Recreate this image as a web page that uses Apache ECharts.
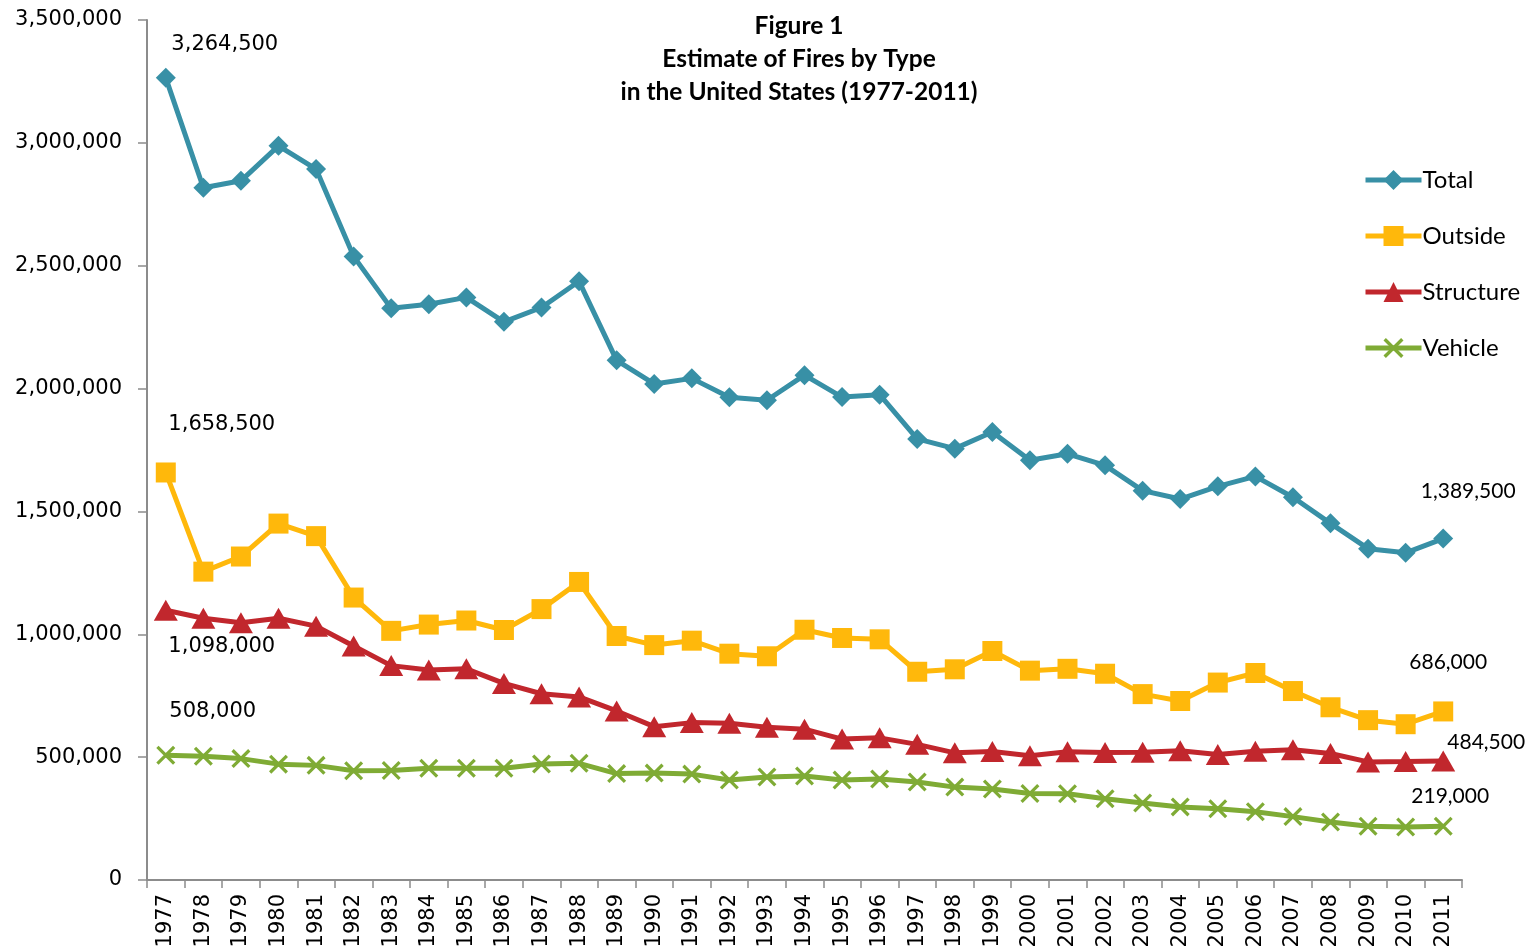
<!DOCTYPE html>
<html>
<head>
<meta charset="utf-8">
<title>Estimate of Fires by Type</title>
<script src="https://cdn.jsdelivr.net/npm/echarts@6/dist/echarts.min.js"></script>
<style>
  html, body { margin: 0; padding: 0; background: #fff; }
  #chart { width: 1528px; height: 952px; }
</style>
</head>
<body>
<div id="chart"></div>
<script>
// years on the x axis
var years = [
  "1977", "1978", "1979", "1980", "1981", "1982", "1983", "1984", "1985", "1986",
  "1987", "1988", "1989", "1990", "1991", "1992", "1993", "1994", "1995", "1996",
  "1997", "1998", "1999", "2000", "2001", "2002", "2003", "2004", "2005", "2006",
  "2007", "2008", "2009", "2010", "2011"
];
var total = [
  3264500, 2817500, 2845500, 2988000, 2893500, 2538000, 2326500, 2343000, 2371000, 2271500,
  2330000, 2436500, 2115000, 2019000, 2041500, 1964500, 1952500, 2054500, 1965500, 1975000,
  1795000, 1755500, 1823000, 1708000, 1734500, 1687500, 1584500, 1550500, 1602000, 1642500,
  1557500, 1451500, 1348500, 1331500, 1389500
];
var outside = [
  1658500, 1255000, 1316500, 1450500, 1399500, 1149500, 1014000, 1039500, 1056000, 1017500,
  1102500, 1213000, 993000, 956000, 974000, 921000, 910500, 1018500, 985000, 979500,
  847500, 857500, 932000, 852000, 859500, 839500, 756500, 728500, 803500, 842500,
  769000, 703000, 650500, 634000, 686000
];
var structure = [
  1098000, 1065500, 1047000, 1065000, 1033000, 952500, 872500, 855000, 859500, 800000,
  758000, 745000, 688000, 624000, 640500, 637500, 621500, 614000, 573500, 578500,
  552000, 517500, 523000, 505500, 521500, 519000, 519500, 526000, 511000, 524000,
  530500, 515000, 480500, 482000, 484500
];
var vehicle = [
  508000, 503500, 494000, 471500, 466500, 445000, 446000, 455000, 455000, 455000,
  472000, 475000, 433000, 435000, 431000, 407000, 419000, 423000, 407000, 411000,
  399000, 378000, 370000, 352000, 351000, 331000, 313000, 297500, 290000, 278000,
  258000, 236000, 219000, 215500, 219000
];
var yTicks = [0, 500000, 1000000, 1500000, 2000000, 2500000, 3000000, 3500000];

var fmt = function (v) { return Number(v).toLocaleString("en-US"); };

// first and last points carry a value label, offset from the point centre
function withLabels(values, firstOffset, lastOffset) {
  return values.map(function (v, i) {
    if (i === 0) {
      return { value: v, label: {
        show: true, position: "inside", offset: firstOffset,
        fontFamily: "DejaVu Sans", fontSize: 21, color: "#000", formatter: function (p) { return fmt(p.value); }
      } };
    }
    if (i === values.length - 1) {
      return { value: v, label: {
        show: true, position: "inside", offset: lastOffset,
        fontFamily: "Lato", fontSize: 21, color: "#000", formatter: function (p) { return fmt(p.value); }
      } };
    }
    return v;
  });
}

var xMark = "path://M0,1.2 L1.2,0 L10,8.8 L8.8,10 Z M8.8,0 L10,1.2 L1.2,10 L0,8.8 Z";

var chart = echarts.init(document.getElementById("chart"));

chart.setOption({
  animation: false,
  title: {
    text: "Figure 1\nEstimate of Fires by Type\nin the United States (1977-2011)",
    left: 794,
    top: 5,
    textAlign: "center",
    textStyle: {
      fontFamily: "Lato",
      fontSize: 24.5,
      fontWeight: "bold",
      lineHeight: 33,
      color: "#000"
    }
  },
  legend: {
    orient: "vertical",
    left: 1363,
    top: 168,
    padding: 0,
    itemWidth: 56,
    itemHeight: 25,
    itemGap: 32,
    lineStyle: { width: 5 },
    textStyle: { fontFamily: "Lato", fontSize: 24, color: "#000", padding: [0, 0, 0, -4] },
    data: ["Total", "Outside", "Structure", "Vehicle"]
  },
  grid: { left: 147, right: 66, top: 20, bottom: 72, containLabel: false },
  xAxis: {
    type: "category",
    data: years,
    boundaryGap: true,
    axisLine: { lineStyle: { color: "#8c8c8c", width: 2 } },
    axisTick: { show: true, length: 8, lineStyle: { color: "#8c8c8c", width: 1.5 } },
    axisLabel: {
      rotate: 90,
      interval: 0,
      margin: 14,
      color: "#000",
      fontFamily: "DejaVu Sans",
      fontSize: 21
    }
  },
  yAxis: {
    type: "value",
    min: yTicks[0],
    max: yTicks[yTicks.length - 1],
    interval: 500000,
    splitLine: { show: false },
    axisLine: { show: true, lineStyle: { color: "#8c8c8c", width: 2 } },
    axisTick: { show: true, length: 9, lineStyle: { color: "#8c8c8c", width: 1.5 } },
    axisLabel: {
      margin: 25,
      color: "#000",
      fontFamily: "DejaVu Sans",
      fontSize: 21,
      formatter: fmt
    }
  },
  series: [
    {
      name: "Total",
      type: "line",
      data: withLabels(total, [59, -33], [25, -47]),
      symbol: "diamond",
      symbolSize: 20,
      color: "#3890a6",
      lineStyle: { width: 5 }
    },
    {
      name: "Outside",
      type: "line",
      data: withLabels(outside, [56, -48], [5, -49]),
      symbol: "rect",
      symbolSize: 20,
      color: "#ffb80b",
      lineStyle: { width: 5 }
    },
    {
      name: "Structure",
      type: "line",
      data: withLabels(structure, [56, 36], [43, -19]),
      symbol: "triangle",
      symbolSize: [24, 21],
      color: "#c1272d",
      lineStyle: { width: 5 }
    },
    {
      name: "Vehicle",
      type: "line",
      data: withLabels(vehicle, [47, -44], [7, -30]),
      symbol: xMark,
      symbolSize: 19,
      color: "#7fab35",
      lineStyle: { width: 5 }
    }
  ]
});
</script>
</body>
</html>
